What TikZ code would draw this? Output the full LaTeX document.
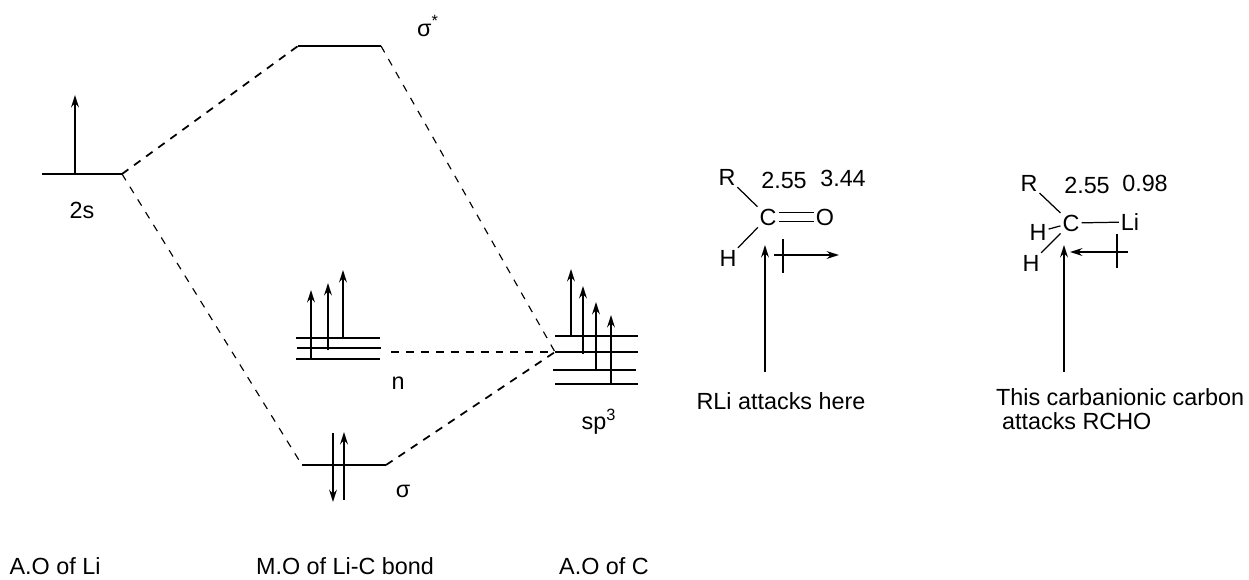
\documentclass[tikz,border=0pt]{standalone}
\usepackage{fontspec}
\setmainfont{Liberation Sans}
\usetikzlibrary{arrows.meta}
\begin{document}
\begin{tikzpicture}
[x=0.02cm,y=-0.02cm,
  levelDecorate/.style={-,line width=1.4pt},
  thinLevel/.style={-,line width=1.1pt},
  dashDecorate/.style={-,dash pattern=on 4.5pt off 4pt,line width=1pt},
  thinDash/.style={-,dash pattern=on 4.2pt off 4.3pt,line width=0.65pt},
  spinDecorate/.style={-{Stealth[length=7pt,width=4.4pt]},line width=1.1pt},
  bondDecorate/.style={-,line width=0.7pt},
  textDecorate/.style={font=\fontsize{13.3}{15}\selectfont,inner sep=1pt}]
\useasboundingbox (0,0) rectangle (1249,579);
%% energy levels
\foreach \levelname/\xa/\xb/\y in {
  li/42/122/174, star/298/381/46, bond/302/386/465}
{
  \coordinate (\levelname l) at (\xa,\y);
  \coordinate (\levelname r) at (\xb,\y);
  \draw[levelDecorate] (\levelname l) -- (\levelname r);
}
\foreach \levelname/\xa/\xb/\y in {
  na/296/380/338, nb/297/381/348, nc/296/380/359,
  pa/555/638/336, pb/555/638/352, pc/553/636/370, pd/555/638/384}
{
  \coordinate (\levelname l) at (\xa,\y);
  \coordinate (\levelname r) at (\xb,\y);
  \draw[thinLevel] (\levelname l) -- (\levelname r);
}
%% electrons
\foreach \spinname/\x/\ya/\yb in {
  s/75/174/95, da/333/433/502, db/344/500/432,
  e/311/359/290, f/328/350/283, g/343/338/270,
  h/571/336/269, i/583/354/286, j/596/370/302, k/611/384/315,
  m/765/372/245, q/1064/372/245}
{
  \coordinate (\spinname a) at (\x,\ya);
  \coordinate (\spinname b) at (\x,\yb);
  \draw[spinDecorate] (\spinname a) -- (\spinname b);
}
%% correlation lines
\coordinate (nend) at (391,352);
\path
\foreach \startnode/\endnode in {
  lir/starl, bondr/pbl, nend/pbl}
{
  (\startnode) edge[dashDecorate] node {} (\endnode)
};
\path
\foreach \startnode/\endnode in {
  lir/bondl, starr/pbl}
{
  (\startnode) edge[thinDash] node {} (\endnode)
};
%% labels
\foreach \nodename/\x/\y/\txt in {
  lab2s/82/210/2s, labstar/428/26/σ\textsuperscript{*}, labn/398/383/n,
  labsp/599/422/sp\textsuperscript{3}, labsig/403/491/σ,
  aoli/55/566/A.O of Li, moli/345/566/M.O of Li-C bond, aoc/604/566/A.O of C,
  attack/781/401/RLi attacks here,
  ena/784/180/2.55, enb/843/178/3.44, enc/1087/185/2.55, end/1145/183/0.98,
  ra/727/177/R, ca/768/217/C, oa/825/217/O, ha/728/258/H,
  rb/1029/183/R, cb/1071/223/C, lib/1130/222/Li, hb/1038/232/H, hc/1031/263/H}
{
  \node (\nodename) at (\x,\y) [textDecorate] {\txt};
}
\node (carban) at (994,397) [textDecorate,anchor=west] {This carbanionic carbon};
\node (carbanb) at (1000,421) [textDecorate,anchor=west] {attacks RCHO};
%% bonds
\path
\foreach \startnode/\endnode in {
  ra/ca, ca/ha, rb/cb, cb/lib, hb/cb, hc/cb}
{
  (\startnode) edge[bondDecorate] node {} (\endnode)
};
\draw[bondDecorate,double,double distance=4.5pt] (ca) -- (oa);
%% polarity arrows
\coordinate (polas) at (774,255);
\coordinate (polae) at (839,255);
\coordinate (polat) at (783,239);
\coordinate (polau) at (783,273);
\coordinate (polbs) at (1128,252);
\coordinate (polbe) at (1070,252);
\coordinate (polbt) at (1117,234);
\coordinate (polbu) at (1117,268);
\draw[spinDecorate] (polas) -- (polae);
\draw[spinDecorate] (polbs) -- (polbe);
\draw[bondDecorate] (polat) -- (polau);
\draw[bondDecorate] (polbt) -- (polbu);
\end{tikzpicture}
\end{document}
